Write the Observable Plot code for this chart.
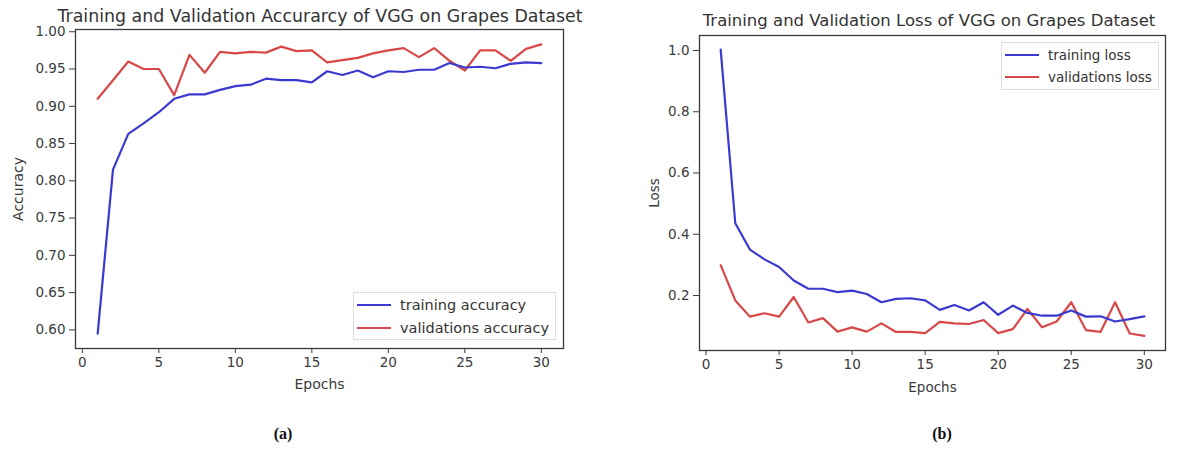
<!DOCTYPE html>
<html>
<head>
<meta charset="utf-8">
<script src="https://cdn.jsdelivr.net/npm/d3@7"></script>
<script src="https://cdn.jsdelivr.net/npm/@observablehq/plot@0.6"></script>
<style>
  html, body { margin: 0; padding: 0; background: #fff; }
  #root { position: relative; width: 1185px; height: 450px; overflow: hidden; font-family: "DejaVu Sans", sans-serif; color: #333; }
  .panel { position: absolute; top: 0; }
  .title { position: absolute; line-height: 20px; color: #333; white-space: nowrap; transform: translateX(-50%); }
  .cap { position: absolute; font-family: "Liberation Serif", serif; font-weight: bold; font-size: 16px; color: #111; transform: translateX(-50%); }
  .legend { position: absolute; box-sizing: border-box; border: 1px solid #ddd; background: rgba(255,255,255,0.9); color: #333; padding: 0px 6px 0px 3px; }
  .legend .row { display: flex; align-items: center; }
  .legend svg { margin-right: 9px; }
</style>
</head>
<body>
<div id="root"></div>
<script>
const epochs = d3.range(1, 31);
const trainAcc = [0.595, 0.815, 0.863, 0.877, 0.892, 0.910, 0.916, 0.916, 0.922, 0.927,
                  0.929, 0.937, 0.935, 0.935, 0.932, 0.947, 0.942, 0.948, 0.939, 0.947,
                  0.946, 0.949, 0.949, 0.958, 0.952, 0.953, 0.951, 0.957, 0.959, 0.958];
const valAcc   = [0.910, 0.935, 0.960, 0.950, 0.950, 0.915, 0.969, 0.945, 0.973, 0.971,
                  0.973, 0.972, 0.980, 0.974, 0.975, 0.959, 0.962, 0.965, 0.971, 0.975,
                  0.978, 0.966, 0.978, 0.961, 0.948, 0.975, 0.975, 0.961, 0.977, 0.983];
const trainLoss = [1.003, 0.436, 0.350, 0.318, 0.293, 0.249, 0.222, 0.222, 0.211, 0.216,
                   0.205, 0.178, 0.189, 0.191, 0.184, 0.153, 0.169, 0.151, 0.178, 0.137,
                   0.167, 0.143, 0.134, 0.134, 0.151, 0.131, 0.132, 0.115, 0.123, 0.132];
const valLoss   = [0.299, 0.184, 0.131, 0.142, 0.131, 0.195, 0.112, 0.126, 0.082, 0.096,
                   0.082, 0.109, 0.081, 0.081, 0.077, 0.114, 0.109, 0.107, 0.120, 0.077,
                   0.090, 0.156, 0.096, 0.115, 0.178, 0.087, 0.081, 0.178, 0.076, 0.068];
const xTicks = [0, 5, 10, 15, 20, 25, 30];
const accTicks = [0.60, 0.65, 0.70, 0.75, 0.80, 0.85, 0.90, 0.95, 1.00];
const lossTicks = [0.2, 0.4, 0.6, 0.8, 1.0];
const titles = ["Training and Validation Accurarcy of VGG on Grapes Dataset",
                "Training and Validation Loss of VGG on Grapes Dataset"];
const accLegend = ["training accuracy", "validations accuracy"];
const lossLegend = ["training loss", "validations loss"];
const colors = ["#3a3ad0", "#d84848"];

const root = document.getElementById("root");

function panel({left, width, height, margins, ydomain, yticks, yfmt, ylabel, ylabelOffset, xlabelOffset, labelSize, train, val}) {
  const ink = "#3a3a3a";
  const p = Plot.plot({
    width, height,
    marginLeft: margins[0], marginRight: margins[1], marginTop: margins[2], marginBottom: margins[3],
    style: { fontFamily: "DejaVu Sans, sans-serif", fontSize: "13.5px", color: ink, background: "transparent" },
    x: { domain: [-0.45, 31.45] },
    y: { domain: ydomain },
    marks: [
      Plot.frame({ stroke: ink, strokeWidth: 1.3 }),
      Plot.axisX({ ticks: xTicks, tickSize: 5, tickPadding: 4, tickFormat: d3.format("d"), label: null }),
      Plot.axisX({ ticks: [], tickSize: 0, label: "Epochs", labelAnchor: "center", labelArrow: "none",
                   labelOffset: xlabelOffset, fontSize: labelSize }),
      Plot.axisY({ ticks: yticks, tickSize: 6, tickPadding: 4, tickFormat: d3.format(yfmt), label: null }),
      Plot.axisY({ ticks: [], tickSize: 0, label: ylabel, labelAnchor: "center", labelArrow: "none",
                   labelOffset: ylabelOffset, fontSize: labelSize }),
      Plot.line(epochs.map((e, i) => ({ e, v: val[i] })), { x: "e", y: "v", stroke: colors[1], strokeWidth: 2.2 }),
      Plot.line(epochs.map((e, i) => ({ e, v: train[i] })), { x: "e", y: "v", stroke: colors[0], strokeWidth: 2.2 })
    ]
  });
  p.classList.add("panel");
  p.style.left = left + "px";
  root.appendChild(p);
}

panel({ left: 0, width: 585, height: 400, margins: [75, 22, 29, 52],
        ydomain: [0.575, 1.003], yticks: accTicks, yfmt: ".2f", ylabel: "Accuracy", ylabelOffset: 62, xlabelOffset: 40,
        labelSize: 14, train: trainAcc, val: valAcc });
panel({ left: 600, width: 585, height: 400, margins: [99, 20, 35, 50],
        ydomain: [0.0204, 1.049], yticks: lossTicks, yfmt: ".1f", ylabel: "Loss", ylabelOffset: 50, xlabelOffset: 41,
        labelSize: 13.5, train: trainLoss, val: valLoss });

function addText(cls, text, x, y, size) {
  const d = document.createElement("div");
  d.className = cls; d.textContent = text;
  d.style.left = x + "px"; d.style.top = y + "px";
  if (size) d.style.fontSize = size + "px";
  root.appendChild(d);
}
addText("title", titles[0], 320, 6, 17.4);
addText("title", titles[1], 929, 11, 16.5);
addText("cap", "(a)", 283, 425);
addText("cap", "(b)", 942, 425);

function legend(labels, x, y, w, h, size, rowH) {
  const d = document.createElement("div");
  d.className = "legend";
  d.style.left = x + "px"; d.style.top = y + "px";
  d.style.width = w + "px"; d.style.height = h + "px";
  d.style.fontSize = size + "px";
  d.style.paddingTop = ((h - 2 - 2 * rowH) / 2) + "px";
  labels.forEach((t, i) => {
    const r = document.createElement("div");
    r.className = "row";
    r.style.height = rowH + "px";
    r.innerHTML = `<svg width="34" height="6"><line x1="0" x2="34" y1="3" y2="3" stroke="${colors[i]}" stroke-width="2.2"/></svg><span></span>`;
    r.querySelector("span").textContent = t;
    d.appendChild(r);
  });
  root.appendChild(d);
}
legend(accLegend, 353, 292, 203, 48, 14.5, 23);
legend(lossLegend, 1001, 42, 158, 48, 13.5, 22);
</script>
</body>
</html>
